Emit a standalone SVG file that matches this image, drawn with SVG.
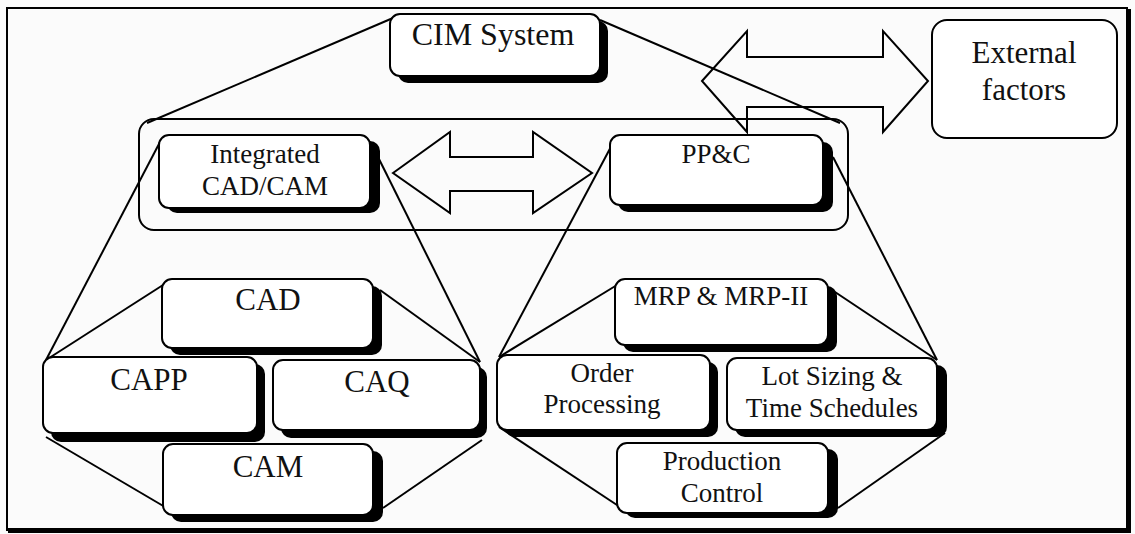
<svg xmlns="http://www.w3.org/2000/svg" width="1135" height="534" viewBox="0 0 1135 534">
<style>
.bx{fill:#fff;stroke:#000;stroke-width:2}
.sh{fill:#000;stroke:none}
.ln{stroke:#000;stroke-width:2;fill:none}
.ar{fill:none;stroke:#000;stroke-width:2;stroke-linejoin:miter}
.t{font-family:"Liberation Serif","Times New Roman",serif;text-anchor:middle;fill:#111}
.s27{font-size:27px}
.s31{font-size:31px}
.s32{font-size:32px}
</style>
<rect x="0" y="0" width="1135" height="534" fill="#fbfbfb"/>
<g id="frame">
<rect x="7" y="8" width="1120" height="522" fill="none" stroke="#000" stroke-width="2"/>
<rect x="1126" y="9" width="5" height="524" class="sh"/>
<rect x="8" y="528" width="1123" height="5" class="sh"/>
</g>
<g id="connectors">
<line class="ln" x1="393" y1="18" x2="147" y2="123"/>
<line class="ln" x1="600" y1="20" x2="840" y2="123"/>
<polygon class="ar" points="702,81 747,31 747,57 883,57 883,31 928,81 883,132 883,107 747,107 747,132"/>
<polygon class="ar" points="393,173 450,132 450,157 533,157 533,132 592,173 533,213 533,191 450,191 450,213"/>
<line class="ln" x1="160" y1="142" x2="46" y2="360"/>
<line class="ln" x1="378" y1="157" x2="480" y2="362"/>
<line class="ln" x1="163" y1="285" x2="46" y2="360"/>
<line class="ln" x1="380" y1="290" x2="480" y2="362"/>
<line class="ln" x1="46" y1="437" x2="165" y2="507"/>
<line class="ln" x1="383" y1="508" x2="482" y2="440"/>
<line class="ln" x1="613" y1="143" x2="499" y2="357"/>
<line class="ln" x1="833" y1="157" x2="937" y2="360"/>
<line class="ln" x1="617" y1="285" x2="499" y2="357"/>
<line class="ln" x1="835" y1="292" x2="937" y2="360"/>
<line class="ln" x1="499" y1="427" x2="620" y2="507"/>
<line class="ln" x1="838" y1="508" x2="945" y2="433"/>
</g>
<g id="container">
<rect x="139" y="119" width="709" height="111" rx="15" fill="none" stroke="#000" stroke-width="2"/>
</g>
<g id="cim">
<rect x="398" y="21" width="210" height="62" rx="10" class="sh"/>
<rect x="390" y="14" width="210" height="62" rx="10" class="bx"/>
<text x="493" y="45" class="t s32">CIM System</text>
</g>
<g id="external">
<rect x="932" y="20" width="185" height="118" rx="15" class="bx"/>
<text x="1024" y="63" class="t s31">External</text>
<text x="1024" y="100" class="t s31">factors</text>
</g>
<g id="cadcam">
<rect x="167" y="141" width="213" height="72" rx="10" class="sh"/>
<rect x="159" y="135" width="211" height="73" rx="10" class="bx"/>
<text x="265" y="163" class="t s27">Integrated</text>
<text x="265" y="195" class="t s27">CAD/CAM</text>
</g>
<g id="ppc">
<rect x="618" y="142" width="215" height="70" rx="10" class="sh"/>
<rect x="610" y="135" width="213" height="70" rx="10" class="bx"/>
<text x="716" y="163" class="t s27">PP&amp;C</text>
</g>
<g id="cad">
<rect x="170" y="286" width="212" height="69" rx="10" class="sh"/>
<rect x="162" y="279" width="211" height="69" rx="10" class="bx"/>
<text x="268" y="310" class="t s31">CAD</text>
</g>
<g id="capp">
<rect x="51" y="364" width="214" height="78" rx="10" class="sh"/>
<rect x="43" y="357" width="214" height="76" rx="10" class="bx"/>
<text x="149" y="390" class="t s31">CAPP</text>
</g>
<g id="caq">
<rect x="281" y="367" width="206" height="71" rx="10" class="sh"/>
<rect x="273" y="360" width="207" height="70" rx="10" class="bx"/>
<text x="377" y="392" class="t s31">CAQ</text>
</g>
<g id="cam">
<rect x="171" y="451" width="212" height="71" rx="10" class="sh"/>
<rect x="163" y="444" width="210" height="71" rx="10" class="bx"/>
<text x="268" y="477" class="t s31">CAM</text>
</g>
<g id="mrp">
<rect x="623" y="286" width="214" height="66" rx="10" class="sh"/>
<rect x="615" y="279" width="213" height="66" rx="10" class="bx"/>
<text x="721" y="305" class="t s27">MRP &amp; MRP-II</text>
</g>
<g id="order">
<rect x="505" y="362" width="213" height="75" rx="10" class="sh"/>
<rect x="497" y="355" width="213" height="75" rx="10" class="bx"/>
<text x="602" y="382" class="t s27">Order</text>
<text x="602" y="413" class="t s27">Processing</text>
</g>
<g id="lot">
<rect x="735" y="365" width="212" height="72" rx="10" class="sh"/>
<rect x="727" y="358" width="210" height="72" rx="10" class="bx"/>
<text x="832" y="385" class="t s27">Lot Sizing &amp;</text>
<text x="832" y="417" class="t s27">Time Schedules</text>
</g>
<g id="prodctl">
<rect x="625" y="449" width="213" height="69" rx="10" class="sh"/>
<rect x="617" y="443" width="211" height="70" rx="10" class="bx"/>
<text x="722" y="470" class="t s27">Production</text>
<text x="722" y="502" class="t s27">Control</text>
</g>
</svg>
